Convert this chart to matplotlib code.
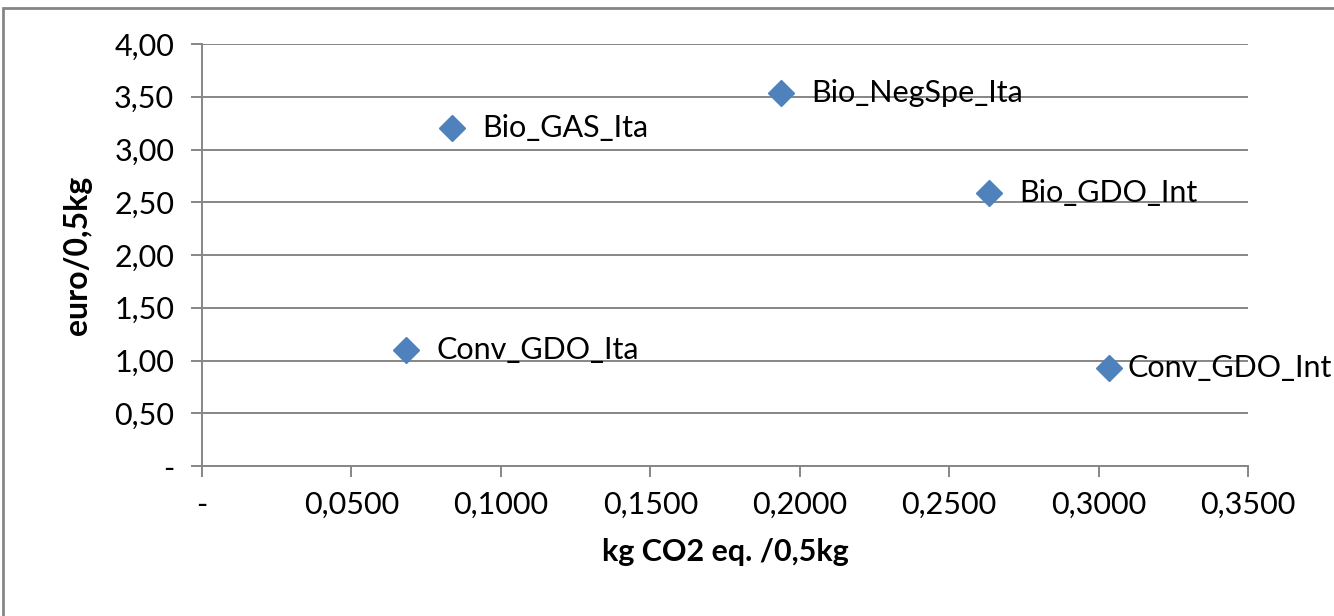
import matplotlib
matplotlib.use("Agg")
import matplotlib.pyplot as plt
from matplotlib.ticker import FuncFormatter, MultipleLocator
from matplotlib.patches import Rectangle

names = ["Conv_GDO_Ita", "Bio_GAS_Ita", "Bio_NegSpe_Ita", "Bio_GDO_Int", "Conv_GDO_Int"]
co2 = [0.0683, 0.0837, 0.1937, 0.2633, 0.3035]
price = [1.10, 3.20, 3.54, 2.59, 0.93]

plt.rcParams['font.family'] = ['Lato', 'DejaVu Sans']

fig = plt.figure(figsize=(13.34, 6.16), dpi=100)
ax = fig.add_axes([202/1334, 1-466/616, (1248-202)/1334, (466-44)/616])

grid_c = '#868686'
ax.set_xlim(0, 0.35)
ax.set_ylim(0, 4.0)
ax.yaxis.set_major_locator(MultipleLocator(0.5))
ax.xaxis.set_major_locator(MultipleLocator(0.05))

def yfmt(v, p):
    return '-' if abs(v) < 1e-9 else f"{v:.2f}".replace('.', ',')
def xfmt(v, p):
    return '-' if abs(v) < 1e-9 else f"{v:.4f}".replace('.', ',')
ax.yaxis.set_major_formatter(FuncFormatter(yfmt))
ax.xaxis.set_major_formatter(FuncFormatter(xfmt))

ax.grid(axis='y', color=grid_c, linewidth=1.4)
ax.set_axisbelow(True)
for s in ['top', 'right']:
    ax.spines[s].set_visible(False)
for s in ['left', 'bottom']:
    ax.spines[s].set_color(grid_c)
    ax.spines[s].set_linewidth(1.4)
ax.tick_params(axis='both', colors=grid_c, labelcolor='black', labelsize=22, width=1.4, length=8, direction='out')
ax.tick_params(axis='x', pad=10)
ax.tick_params(axis='y', pad=12)

ax.plot(co2, price, linestyle='none', marker='D', markersize=13, color='#4F81BD', zorder=3, clip_on=False)
for n, x, y in zip(names, co2, price):
    # the rightmost label is nudged toward its marker to stay inside the chart
    dx = 13 if x > 0.3 else 22
    ax.annotate(n, (x, y), xytext=(dx, 0), textcoords='offset points', va='center', ha='left', fontsize=22)

ax.set_xlabel('kg CO2 eq. /0,5kg', fontsize=22, fontweight='bold', labelpad=14)
ax.set_ylabel('euro/0,5kg', fontsize=23, fontweight='bold', labelpad=16)

fig.patches.append(Rectangle((3/1334, -0.1), 1.1, 1 - 8/616 + 0.1, transform=fig.transFigure,
                             fill=False, edgecolor=grid_c, linewidth=2))

fig.savefig('out.png', dpi=100)
